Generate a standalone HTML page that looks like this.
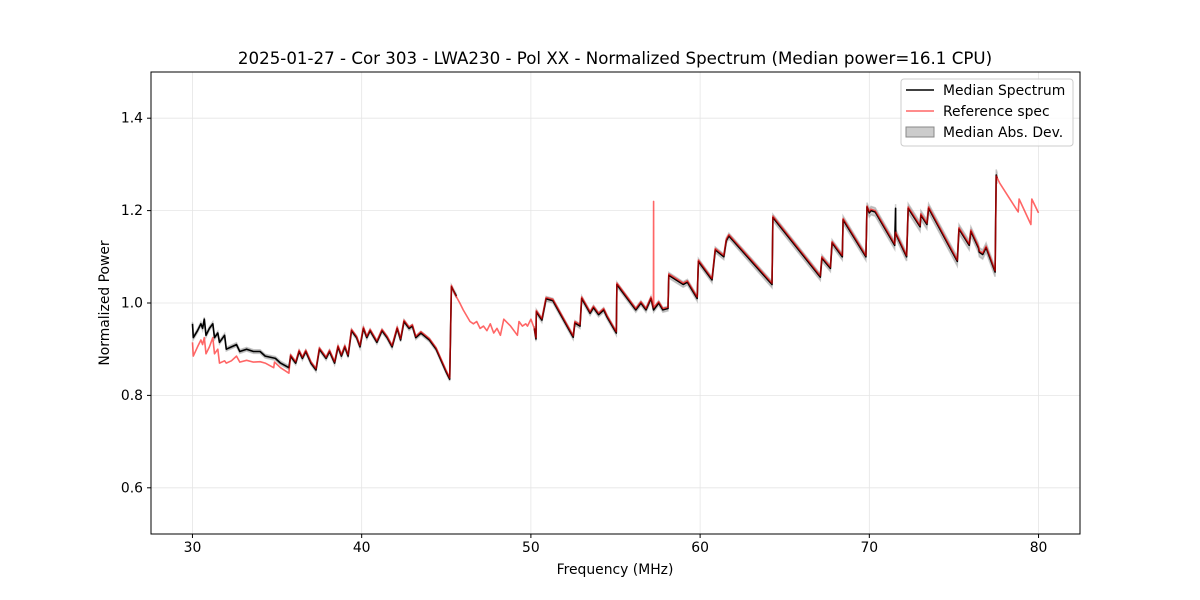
<!DOCTYPE html>
<html><head><meta charset="utf-8"><style>
body{margin:0;background:#fff}
svg{display:block;font-family:"DejaVu Sans","Liberation Sans",sans-serif}
</style></head><body>
<svg id="chart" width="1200" height="600">
<rect width="1200" height="600" fill="#fff"/>
<g id="grid"></g>
<g id="series"></g>
<rect x="151" y="72" width="929" height="462" fill="none" stroke="#000" stroke-width="1"/>
<g id="axes"></g>
<text x="615" y="64" text-anchor="middle" font-size="16.67">2025-01-27 - Cor 303 - LWA230 - Pol XX - Normalized Spectrum (Median power=16.1 CPU)</text>
<text x="615" y="574" text-anchor="middle" font-size="13.9">Frequency (MHz)</text>
<text x="109" y="303" text-anchor="middle" font-size="13.9" transform="rotate(-90 109 303)">Normalized Power</text>
<g>
<rect x="901" y="79" width="172" height="67" rx="3" fill="#fff" fill-opacity="0.8" stroke="#ccc"/>
<g><line x1="906" y1="90" x2="934" y2="90" stroke="#000" stroke-width="1.5"/><text x="943" y="95" font-size="13.9">Median Spectrum</text></g>
<g><line x1="906" y1="111" x2="934" y2="111" stroke="#f00" stroke-opacity="0.6" stroke-width="1.5"/><text x="943" y="116" font-size="13.9">Reference spec</text></g>
<g><rect x="906" y="127" width="28" height="10" fill="#999" fill-opacity="0.5" stroke="#888"/><text x="943" y="137" font-size="13.9">Median Abs. Dev.</text></g>
</g>
</svg>
<script>
const xTicks=[30,40,50,60,70,80];
const yTicks=[0.6,0.8,1.0,1.2,1.4];
const medFreq=[30.0,30.05,30.3,30.5,30.6,30.7,30.8,31.0,31.2,31.3,31.5,31.6,31.9,32.0,32.3,32.6,32.8,33.2,33.6,34.0,34.3,34.9,35.2,35.7,35.8,36.1,36.3,36.5,36.7,37.0,37.3,37.5,37.9,38.1,38.4,38.6,38.8,39.0,39.2,39.4,39.7,39.9,40.1,40.3,40.5,40.9,41.2,41.5,41.8,42.1,42.3,42.5,42.8,43.0,43.2,43.5,44.0,44.4,45.0,45.2,45.3,45.6,45.65,
50.2,50.3,50.32,50.65,50.9,51.3,52.5,52.6,52.9,53.0,53.5,53.7,54.0,54.3,54.5,55.05,55.08,56.2,56.5,56.8,57.1,57.25,57.55,57.8,58.1,58.15,59.0,59.25,59.83,59.9,60.7,60.9,61.4,61.55,61.7,64.25,64.3,67.1,67.2,67.7,67.8,68.4,68.45,69.8,69.86,70.0,70.1,70.35,71.5,71.55,71.56,72.2,72.3,73.0,73.05,73.4,73.5,75.2,75.3,75.9,76.0,76.45,76.5,76.7,76.9,77.43,77.5,77.55];
const medVal=[.955,.925,.94,.955,.945,.965,.93,.945,.955,.925,.935,.915,.93,.90,.905,.91,.895,.90,.895,.895,.885,.88,.87,.86,.885,.87,.895,.88,.895,.87,.855,.90,.88,.895,.87,.905,.885,.905,.885,.94,.925,.905,.945,.925,.94,.915,.94,.925,.905,.945,.92,.96,.945,.95,.925,.935,.92,.90,.85,.835,1.035,1.015,null,
.945,.922,.981,.963,1.009,1.005,.926,.957,.95,1.01,.978,.99,.975,.985,.97,.935,1.04,.985,1.0,.985,1.01,.985,1.0,.985,.988,1.06,1.04,1.045,1.01,1.09,1.05,1.115,1.10,1.135,1.145,1.04,1.185,1.056,1.097,1.075,1.13,1.10,1.18,1.10,1.208,1.195,1.2,1.197,1.125,1.205,1.15,1.10,1.205,1.165,1.19,1.17,1.205,1.09,1.16,1.125,1.155,1.119,1.11,1.105,1.12,1.067,1.277,1.27];
const madVal=[.004,.004,.004,.004,.004,.004,.004,.004,.004,.004,.004,.004,.004,.004,.004,.004,.004,.004,.004,.004,.004,.004,.004,.004,.004,.004,.004,.004,.004,.004,.004,.004,.004,.004,.004,.004,.004,.004,.004,.004,.004,.004,.004,.004,.004,.004,.004,.004,.004,.004,.004,.004,.004,.004,.004,.004,.004,.004,.004,.004,.004,.004,null,
.005,.005,.005,.005,.005,.005,.005,.005,.005,.005,.005,.005,.005,.005,.005,.005,.005,.005,.005,.005,.005,.005,.005,.005,.005,.006,.006,.006,.006,.006,.006,.006,.006,.006,.006,.007,.007,.007,.007,.007,.007,.007,.008,.008,.009,.009,.009,.009,.009,.009,.009,.009,.01,.01,.01,.01,.01,.01,.01,.01,.01,.01,.01,.01,.01,.01,.012,.012];
const refFreq=[30.0,30.05,30.3,30.5,30.6,30.7,30.8,31.0,31.2,31.3,31.5,31.6,31.9,32.0,32.3,32.6,32.8,33.2,33.6,34.0,34.3,34.8,34.85,35.2,35.7,35.8,36.1,36.3,36.5,36.7,37.0,37.3,37.5,37.9,38.1,38.4,38.6,38.8,39.0,39.2,39.4,39.7,39.9,40.1,40.3,40.5,40.9,41.2,41.5,41.8,42.1,42.3,42.5,42.8,43.0,43.2,43.5,44.0,44.4,45.0,45.2,45.3,45.5,45.8,46.0,46.4,46.6,46.8,47.0,47.2,47.4,47.6,47.8,48.0,48.2,48.4,48.8,49.2,49.3,49.5,49.7,49.8,50.0,50.2,50.3,
50.32,50.65,50.9,51.3,52.5,52.6,52.9,53.0,53.5,53.7,54.0,54.3,54.5,55.05,55.08,56.2,56.5,56.8,57.1,57.24,57.25,57.26,57.55,57.8,58.1,58.15,59.0,59.25,59.83,59.9,60.7,60.9,61.4,61.55,61.7,64.25,64.3,67.1,67.2,67.7,67.8,68.4,68.45,69.8,69.86,70.0,70.1,70.35,71.5,71.55,72.2,72.3,73.0,73.05,73.4,73.5,75.2,75.3,75.9,76.0,76.45,76.5,76.7,76.9,77.43,77.5,77.7,78.8,78.85,79.55,79.6,80.0];
const refVal=[.915,.885,.905,.92,.91,.925,.89,.905,.925,.89,.90,.87,.875,.87,.875,.885,.872,.876,.872,.873,.87,.86,.872,.86,.848,.888,.873,.898,.883,.898,.873,.858,.903,.883,.898,.873,.908,.888,.908,.888,.943,.928,.908,.948,.928,.943,.918,.943,.928,.908,.948,.923,.963,.948,.953,.928,.938,.923,.903,.853,.838,1.038,1.02,1.0,.985,.96,.955,.96,.945,.95,.94,.955,.935,.945,.93,.965,.95,.93,.96,.95,.955,.95,.965,.945,.925,
.984,.966,1.012,1.008,.929,.96,.953,1.013,.981,.993,.978,.988,.973,.938,1.043,.988,1.003,.988,1.013,.99,1.22,.99,1.003,.988,.991,1.063,1.043,1.048,1.013,1.093,1.053,1.118,1.103,1.138,1.148,1.043,1.188,1.059,1.1,1.078,1.133,1.103,1.183,1.103,1.21,1.198,1.203,1.2,1.128,1.153,1.103,1.208,1.168,1.193,1.173,1.208,1.093,1.163,1.128,1.158,1.122,1.113,1.108,1.123,1.07,1.275,1.26,1.197,1.225,1.17,1.225,1.195];

const NS='http://www.w3.org/2000/svg';
const X0=151,X1=1080,Y0=534,Y1=72;
function sx(f){return X0+(f-27.55)/(82.45-27.55)*(X1-X0);}
function sy(v){return Y0-(v-0.5)/(1.0)*(Y0-Y1);}
function mk(tag,attrs,parent){const e=document.createElementNS(NS,tag);for(const k in attrs)e.setAttribute(k,attrs[k]);parent.appendChild(e);return e;}
const grid=document.getElementById('grid'),axes=document.getElementById('axes'),ser=document.getElementById('series');
xTicks.forEach(t=>{const x=sx(t);
 const g=mk('line',{x1:x,x2:x,y1:Y1,y2:Y0,stroke:'#e5e5e5','stroke-width':0.8},grid);
 
 
 mk('line',{x1:x,x2:x,y1:Y0,y2:Y0+4,stroke:'#000'},axes);
 const l=mk('text',{x:x,y:Y0+18,'text-anchor':'middle','font-size':13.9},axes);l.textContent=t;
 
 });
yTicks.forEach(t=>{const y=sy(t);
 const g=mk('line',{x1:X0,x2:X1,y1:y,y2:y,stroke:'#e5e5e5','stroke-width':0.8},grid);
 
 
 mk('line',{x1:X0-4,x2:X0,y1:y,y2:y,stroke:'#000'},axes);
 const l=mk('text',{x:X0-8,y:y+4.5,'text-anchor':'end','font-size':13.9},axes);l.textContent=t.toFixed(1);
 
 });
function linePath(F,V){let d='',pen=false;for(let i=0;i<F.length;i++){if(V[i]==null){pen=false;continue;}d+=(pen?'L':'M')+sx(F[i]).toFixed(1)+','+sy(V[i]).toFixed(1);pen=true;}return d;}
let segs=[],cur=[];
for(let i=0;i<medFreq.length;i++){if(medVal[i]==null){if(cur.length)segs.push(cur);cur=[];}else cur.push(i);}
if(cur.length)segs.push(cur);
segs.forEach(s=>{let d='';s.forEach((i,k)=>{d+=(k?'L':'M')+sx(medFreq[i]).toFixed(1)+','+sy(medVal[i]+madVal[i]).toFixed(1);});
 for(let k=s.length-1;k>=0;k--){const i=s[k];d+='L'+sx(medFreq[i]).toFixed(1)+','+sy(medVal[i]-madVal[i]).toFixed(1);}
 const p=mk('path',{d:d+'Z',fill:'#999','fill-opacity':0.5,stroke:'#999','stroke-opacity':0.5,'stroke-width':1.5},ser);
 
 });
const m=mk('path',{d:linePath(medFreq,medVal),fill:'none',stroke:'#000','stroke-width':1.6,'stroke-linejoin':'round'},ser);


const r=mk('path',{d:linePath(refFreq,refVal),fill:'none',stroke:'#f00','stroke-opacity':0.6,'stroke-width':1.6,'stroke-linejoin':'round'},ser);


</script>
</body></html>
